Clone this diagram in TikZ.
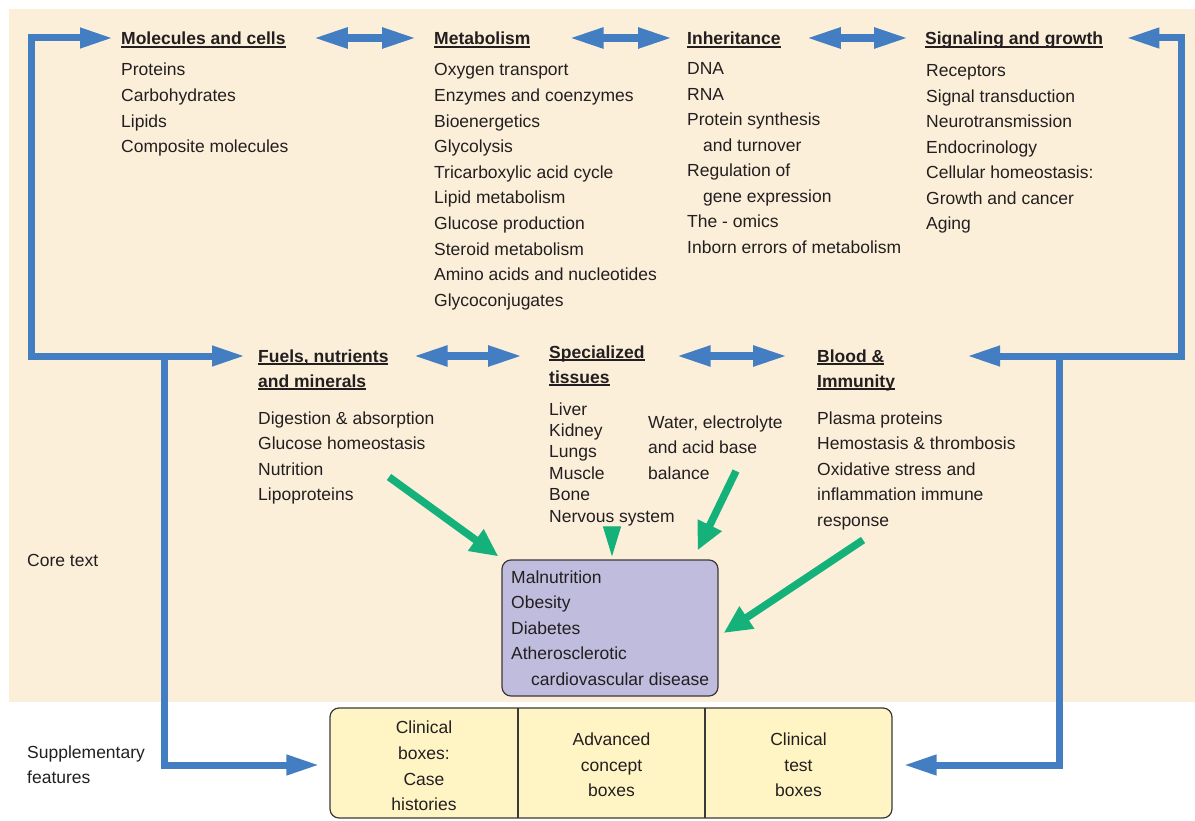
\documentclass[tikz,border=0pt]{standalone}
\usepackage{fontspec}
\setmainfont{Liberation Sans}
\usetikzlibrary{arrows.meta}

\definecolor{bg}{HTML}{FCEFDA}
\definecolor{blu}{HTML}{437EC3}
\definecolor{grn}{HTML}{14B27A}
\definecolor{lila}{HTML}{BFBCDE}
\definecolor{yel}{HTML}{FFF5C4}
\definecolor{txt}{HTML}{231F20}
\definecolor{bdr}{HTML}{3A3838}

% bold heading with a fixed underline
\newcommand{\hd}[1]{{\bfseries\setbox0\hbox{#1}\rlap{\rule[-2.8pt]{\wd0}{1.4pt}}\box0}}

\tikzset{
  item/.style={inner sep=0pt,anchor=base west,text=txt,font=\fontsize{17.5}{25.6}\selectfont},
  head/.style={item},
  cell/.style={inner sep=0pt,align=center,text=txt,font=\fontsize{17.5}{25.6}\selectfont},
  tipb/.tip={Triangle[length=33pt,width=19pt]},
  tipg/.tip={Triangle[length=28pt,width=25pt]},
  bluline/.style={draw=blu,line width=7pt},
  bluarrow/.style={bluline,-tipb},
  dblarrow/.style={draw=blu,line width=8pt,{Triangle[length=35pt,width=19pt]}-{Triangle[length=35pt,width=19pt]}},
  grnarrow/.style={draw=grn,line width=7.5pt,-tipg},
  disbox/.style={draw=bdr,fill=lila,line width=1.2pt,rounded corners=9pt,minimum width=216pt,minimum height=136pt,inner sep=0pt},
  supbox/.style={draw=bdr,fill=yel,line width=1.2pt,rounded corners=9pt,minimum width=562pt,minimum height=110pt,inner sep=0pt},
}

\begin{document}
\begin{tikzpicture}[x=1pt,y=-1pt]
  \clip (0,0) rectangle (1195,821);
  \fill[bg] (9,9) rectangle (1195,702);

  %top row
  \node[head] (molh) at (121,45) {\hd{Molecules and cells}};
  \node[head] (meth) at (434,45) {\hd{Metabolism}};
  \node[head] (inhh) at (687,45) {\hd{Inheritance}};
  \node[head] (sigh) at (925,45) {\hd{Signaling and growth}};
  \foreach \t [count=\i from 0] in {Proteins,Carbohydrates,Lipids,Composite molecules}
    \node[item] (mol-\i) at (121,{76+25.6*\i}) {\t};
  \foreach \t [count=\i from 0] in {Oxygen transport,Enzymes and coenzymes,Bioenergetics,Glycolysis,Tricarboxylic acid cycle,Lipid metabolism,Glucose production,Steroid metabolism,Amino acids and nucleotides,Glycoconjugates}
    \node[item] (met-\i) at (434,{76+25.6*\i}) {\t};
  \foreach \t [count=\i from 0] in {DNA,RNA,Protein synthesis,{\hspace*{16pt}and turnover},Regulation of,{\hspace*{16pt}gene expression},The - omics,Inborn errors of metabolism}
    \node[item] (inh-\i) at (687,{75+25.5*\i}) {\t};
  \foreach \t [count=\i from 0] in {Receptors,Signal transduction,Neurotransmission,Endocrinology,Cellular homeostasis:,Growth and cancer,Aging}
    \node[item] (sig-\i) at (926,{77+25.5*\i}) {\t};

  %middle row
  \node[head] (fuelh) at (258,362) {\hd{Fuels, nutrients}};
  \node[head] (fuelh2) at (258,387) {\hd{and minerals}};
  \node[head] (tish) at (549,358) {\hd{Specialized}};
  \node[head] (tish2) at (549,383) {\hd{tissues}};
  \node[head] (bloodh) at (817,362) {\hd{Blood \&}};
  \node[head] (bloodh2) at (817,387) {\hd{Immunity}};
  \foreach \t [count=\i from 0] in {Digestion \& absorption,Glucose homeostasis,Nutrition,Lipoproteins}
    \node[item] (fuel-\i) at (258,{424+25.5*\i}) {\t};
  \foreach \t [count=\i from 0] in {Liver,Kidney,Lungs,Muscle,Bone,Nervous system}
    \node[item] (tis-\i) at (549,{415+21.4*\i}) {\t};
  \foreach \t [count=\i from 0] in {{Water, electrolyte},and acid base,balance}
    \node[item] (wat-\i) at (648,{428+25.5*\i}) {\t};
  \foreach \t [count=\i from 0] in {Plasma proteins,Hemostasis \& thrombosis,Oxidative stress and,inflammation immune,response}
    \node[item] (blood-\i) at (817,{424+25.5*\i}) {\t};

  %disease box
  \node[disbox] (dis) at (610,628) {};
  \foreach \t [count=\i from 0] in {Malnutrition,Obesity,Diabetes,Atherosclerotic,{\hspace*{20pt}cardiovascular disease}}
    \node[item] (dis-\i) at (511,{583+25.6*\i}) {\t};

  %side labels
  \node[item] (core) at (27,566) {Core text};
  \node[item] (supl) at (27,758) {Supplementary};
  \node[item] (supl2) at (27,783) {features};

  %supplementary features
  \node[supbox] (sup) at (611,763) {};
  \foreach \x in {518,705}
    \draw[bdr,line width=1.2pt] (\x,708) -- (\x,818);
  \node[cell] (c1) at (424,766) {Clinical\\boxes:\\Case\\histories};
  \node[cell] (c2) at (611.5,765) {Advanced\\concept\\boxes};
  \node[cell] (c3) at (798.5,765) {Clinical\\test\\boxes};

  %blue frame
  \coordinate (lt) at (31,38);
  \coordinate (lm) at (31,356);
  \coordinate (lb) at (164,356);
  \coordinate (ls) at (164,765);
  \coordinate (rt) at (1181,38);
  \coordinate (rm) at (1181,356);
  \coordinate (rb) at (1059,356);
  \coordinate (rs) at (1059,765);
  \coordinate (rtip) at (967,356);
  \draw[bluline,tipb-tipb,shorten <=13pt,shorten >=8pt] (lm -| fuelh.west) -- (lm) -- (lt) -- (lt -| molh.west);
  \draw[bluarrow,line cap=rect,shorten >=10pt] (lb) -- (ls) -- (ls -| sup.west);
  \draw[bluline,tipb-tipb,shorten >=23pt] (rtip) -- (rm) -- (rt) -- (rt -| sigh.east);
  \draw[bluarrow,line cap=rect,shorten >=11pt] (rb) -- (rs) -- (rs -| sup.east);

  %double arrows
  \draw[dblarrow,shorten <=27pt,shorten >=17pt] (molh.east |- lt) -- (meth.west |- lt);
  \draw[dblarrow,shorten <=38pt,shorten >=14pt] (meth.east |- lt) -- (inhh.west |- lt);
  \draw[dblarrow,shorten <=25pt,shorten >=16pt] (inhh.east |- lt) -- (sigh.west |- lt);
  \draw[dblarrow,shorten <=24pt,shorten >=26pt] (fuelh.east |- lm) -- (tish.west |- lm);
  \draw[dblarrow,shorten <=31pt,shorten >=29pt] (tish.east |- lm) -- (bloodh.west |- lm);

  %green arrows
  \coordinate (g1) at (389,477);
  \coordinate (g2) at (612,527);
  \coordinate (g3) at (736,471);
  \coordinate (g4) at (863,540);
  \draw[grnarrow] (g1) -- ([shift={(-3,-3)}]dis.north west);
  \draw[draw=grn,line width=1pt,-{Triangle[length=30pt,width=18pt]}] (g2) -- ([shift={(2,-3)}]dis.north);
  \draw[grnarrow] (g3) -- ([shift={(-21,-9)}]dis.north east);
  \draw[grnarrow] (g4) -- ([shift={(5,5)}]dis.east);
\end{tikzpicture}
\end{document}
